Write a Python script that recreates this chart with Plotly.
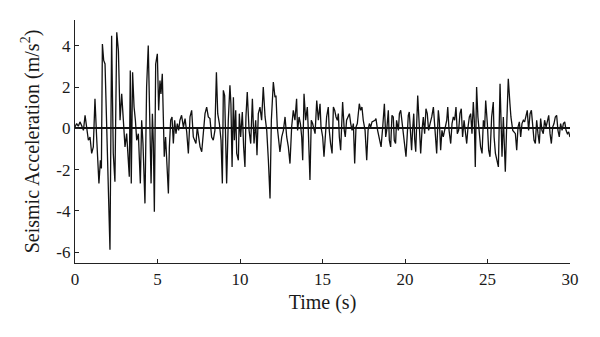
import plotly.graph_objects as go

time_s = [
    0.00, 0.10, 0.20, 0.30, 0.40, 0.51, 0.61, 0.71, 0.81, 0.91, 1.01, 1.11, 1.21, 1.31, 1.45, 1.54, 1.60, 1.66, 1.74, 1.82,
    1.92, 2.12, 2.22, 2.32, 2.42, 2.53, 2.63, 2.73, 2.83, 2.93, 3.03, 3.13, 3.23, 3.29, 3.35, 3.41, 3.49, 3.58, 3.66, 3.74,
    3.84, 3.90, 3.96, 4.04, 4.12, 4.24, 4.34, 4.44, 4.55, 4.61, 4.69, 4.75, 4.81, 4.89, 4.99, 5.07, 5.15, 5.21, 5.29, 5.35,
    5.41, 5.49, 5.58, 5.66, 5.72, 5.80, 5.88, 5.96, 6.04, 6.12, 6.20, 6.28, 6.36, 6.46, 6.57, 6.67, 6.77, 6.87, 6.97, 7.07,
    7.17, 7.33, 7.41, 7.49, 7.58, 7.68, 7.78, 7.88, 7.98, 8.08, 8.18, 8.28, 8.38, 8.48, 8.57, 8.65, 8.75, 8.85, 8.93, 8.99,
    9.07, 9.13, 9.19, 9.29, 9.39, 9.45, 9.52, 9.60, 9.66, 9.74, 9.80, 9.90, 9.96, 10.04, 10.14, 10.22, 10.30, 10.36, 10.44, 10.55,
    10.65, 10.75, 10.85, 10.95, 11.03, 11.11, 11.21, 11.31, 11.41, 11.52, 11.62, 11.72, 11.82, 11.90, 11.96, 12.02, 12.12, 12.18, 12.26, 12.36,
    12.42, 12.53, 12.63, 12.73, 12.83, 12.93, 13.03, 13.13, 13.23, 13.33, 13.43, 13.49, 13.58, 13.66, 13.74, 13.80, 13.88, 13.98, 14.08, 14.14,
    14.24, 14.32, 14.40, 14.55, 14.65, 14.75, 14.85, 14.91, 15.01, 15.09, 15.17, 15.25, 15.35, 15.41, 15.49, 15.58, 15.66, 15.74, 15.82, 15.90,
    15.96, 16.02, 16.10, 16.16, 16.22, 16.32, 16.38, 16.46, 16.55, 16.63, 16.71, 16.79, 16.87, 16.95, 17.03, 17.11, 17.23, 17.31, 17.39, 17.47,
    17.58, 17.68, 17.76, 17.84, 17.92, 18.00, 18.18, 18.24, 18.34, 18.44, 18.55, 18.65, 18.75, 18.83, 18.89, 18.99, 19.05, 19.13, 19.21, 19.29,
    19.35, 19.43, 19.49, 19.60, 19.66, 19.74, 19.82, 19.90, 19.98, 20.06, 20.14, 20.20, 20.26, 20.34, 20.40, 20.46, 20.53, 20.59, 20.65, 20.71,
    20.77, 20.87, 20.95, 21.03, 21.11, 21.19, 21.27, 21.35, 21.43, 21.52, 21.62, 21.72, 21.82, 21.92, 22.02, 22.08, 22.16, 22.24, 22.32, 22.42,
    22.53, 22.59, 22.67, 22.77, 22.85, 22.93, 23.01, 23.09, 23.17, 23.25, 23.33, 23.41, 23.49, 23.58, 23.66, 23.74, 23.82, 23.90, 23.98, 24.06,
    24.14, 24.20, 24.26, 24.34, 24.42, 24.50, 24.58, 24.67, 24.75, 24.83, 24.89, 24.99, 25.07, 25.15, 25.25, 25.35, 25.40, 25.48, 25.56, 25.66,
    25.76, 25.82, 25.88, 25.96, 26.02, 26.08, 26.16, 26.26, 26.36, 26.42, 26.53, 26.61, 26.69, 26.77, 26.85, 26.93, 27.01, 27.09, 27.17, 27.25,
    27.33, 27.41, 27.49, 27.58, 27.66, 27.74, 27.82, 27.90, 27.98, 28.06, 28.14, 28.22, 28.30, 28.38, 28.46, 28.55, 28.63, 28.71, 28.79, 28.87,
    28.95, 29.03, 29.11, 29.19, 29.27, 29.35, 29.43, 29.52, 29.60, 29.68, 29.76, 29.84, 29.92, 30.00,
]

acceleration = [
    0.06, 0.23, 0.10, 0.31, 0.14, -0.10, 0.63, 0.06, -0.58, -0.42, -1.22, -0.90, 1.43, -0.42, -2.67, -1.55, -1.95, 4.09, 3.29, 3.12,
    0.39, -5.89, 4.49, -1.22, -2.59, 4.65, 3.77, 0.39, 1.67, 0.39, -0.90, -0.26, -1.87, -2.35, 2.80, -2.67, 2.72, 1.03, 0.39, -0.58,
    -0.26, -1.55, -2.67, 0.39, -0.74, -3.64, 2.00, 4.01, 0.39, -2.67, 0.71, -0.74, -4.04, 3.12, 3.61, 0.87, 2.32, 1.67, 2.64, 0.39,
    -1.38, -0.42, -1.87, -3.16, -0.90, 0.39, 0.55, -0.74, 0.39, -0.26, 0.23, -0.10, 0.39, 0.63, 0.06, 0.47, -0.18, -1.22, 0.55, 0.87,
    -0.42, -0.74, 0.06, -0.42, -0.90, -1.14, -0.10, 0.71, 1.03, 0.55, 0.47, -0.42, -0.58, -0.10, 2.72, 0.71, 0.23, -0.58, -2.67, 1.84,
    1.59, -1.22, -2.67, 0.39, 2.08, 1.19, -1.87, 1.51, -0.58, 0.87, -1.22, -1.55, 0.71, -0.42, 0.79, -0.90, -1.87, 0.55, 1.76, -0.10,
    -0.74, 1.43, -0.74, 0.39, -1.30, 0.71, 1.03, 0.39, 2.00, 0.55, -0.10, -1.55, -3.40, 0.39, 1.35, 2.24, 1.51, 1.59, 0.06, -0.74,
    -1.14, -0.42, -0.10, 0.55, -0.42, -0.90, -1.71, 0.06, 0.87, 0.39, 1.43, -0.10, 0.55, 0.23, -0.42, -1.55, 1.67, 0.39, 1.03, -0.10,
    -2.51, 0.39, 0.23, -0.26, 1.35, 0.39, 1.19, 0.06, -0.42, -1.38, -0.26, 0.55, 1.03, -0.10, -0.74, -1.22, 1.03, 0.87, 0.55, 0.39,
    0.71, -0.42, -1.06, 0.39, 1.27, -0.10, -0.42, 0.39, 0.55, 0.71, 0.23, -0.10, 0.23, -1.71, 0.06, 0.23, 1.19, 0.87, 1.03, 0.39,
    -0.10, -1.55, -0.10, 0.23, 0.06, 0.31, 0.39, 0.47, -0.10, -0.58, -0.90, 0.06, 1.19, -0.42, -0.10, 0.87, -0.58, -0.90, 0.63, 0.55,
    -0.58, -0.74, 0.39, -0.10, 0.71, 0.87, 0.23, -0.26, -0.90, -1.38, -0.26, 0.63, 0.79, -0.26, -1.06, -0.10, 0.71, -0.58, -1.14, 0.23,
    1.59, 0.06, -1.22, -0.10, 0.55, -0.26, 0.95, 0.71, -0.10, 0.23, 0.55, 1.03, -0.42, -1.22, 0.87, 0.39, -1.06, -0.10, -0.42, -0.10,
    0.39, 1.03, -0.10, -0.74, 0.23, 0.55, 0.39, 1.03, -0.26, -0.10, 0.71, 0.95, -0.42, 0.39, -0.34, -0.74, 0.06, 0.55, 0.71, -0.26,
    1.27, 0.39, -1.87, 2.00, 0.55, -0.26, -0.90, -1.22, 0.39, 0.06, 1.35, 0.23, -1.06, -1.38, 0.55, 1.27, -0.42, -1.22, -1.55, -1.87,
    2.16, 0.39, -1.38, 0.55, -0.42, -2.11, 0.06, 2.40, 1.19, 0.55, -0.10, -0.18, -0.26, -1.06, 0.06, 0.31, -0.42, 0.23, 0.39, 0.31,
    0.55, 0.87, -0.10, 0.71, 0.87, 0.06, -0.58, -0.74, 0.39, -0.26, -0.74, 0.47, -0.10, -0.26, 0.39, 0.06, 0.39, 0.63, -0.26, -0.74,
    0.06, 0.23, 0.55, 0.63, -0.10, -0.42, 0.23, -0.10, 0.23, 0.31, -0.10, -0.26, -0.18, -0.42,
]

x_ticks = [0, 5, 10, 15, 20, 25, 30]
x_tick_labels = ["0", "5", "10", "15", "20", "25", "30"]
y_ticks = [-6, -4, -2, 0, 2, 4]
y_tick_labels = ["-6", "-4", "-2", "0", "2", "4"]

font_family = "Liberation Serif, DejaVu Serif, serif"

fig = go.Figure()
fig.add_trace(go.Scatter(
    x=time_s, y=acceleration, mode="lines",
    line=dict(color="#111111", width=1.3),
    showlegend=False, hoverinfo="skip",
))

fig.update_layout(
    width=600, height=337,
    margin=dict(l=75, r=30, t=20, b=74),
    paper_bgcolor="white", plot_bgcolor="white",
    font=dict(family=font_family, size=17, color="#1a1a1a"),
)
fig.update_xaxes(
    range=[0, 30], tickvals=x_ticks, ticktext=x_tick_labels,
    automargin=False,
    showgrid=False, zeroline=False,
    showline=True, linecolor="#222222", linewidth=1.2,
    ticks="inside", ticklen=4, tickcolor="#222222", tickwidth=1,
    tickfont=dict(size=17),
    title=dict(text="Time (s)", font=dict(size=20), standoff=7),
)
fig.update_yaxes(
    range=[-6.53, 5.25], tickvals=y_ticks, ticktext=y_tick_labels,
    automargin=False,
    showgrid=False, zeroline=True, zerolinecolor="#111111", zerolinewidth=2,
    showline=True, linecolor="#222222", linewidth=1.2,
    ticks="inside", ticklen=4, tickcolor="#222222", tickwidth=1,
    tickfont=dict(size=17),
    title=dict(text="Seismic Acceleration (m/s<sup>2</sup>)", font=dict(size=20), standoff=11),
)

fig.write_html(
    "out.html",
    config={"displayModeBar": False, "staticPlot": True},
    post_script="document.body.style.margin='0';",
)
